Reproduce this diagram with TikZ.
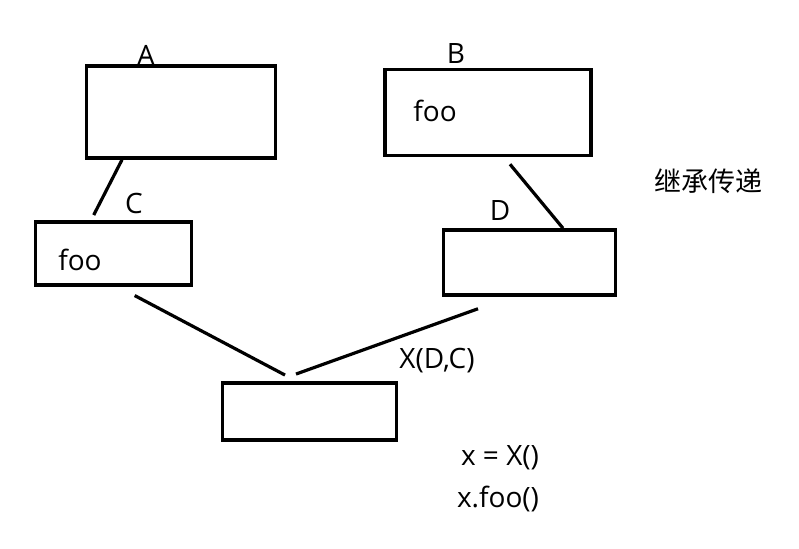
\documentclass[tikz,border=0pt]{standalone}
\usepackage{fontspec}
\setmainfont{Open Sans}
\newfontfamily\cjk{Noto Sans CJK SC}
\usetikzlibrary{positioning}

\begin{document}
\begin{tikzpicture}[
  x=1pt, y=-1pt,
  cls/.style={draw, line width=3.5pt, inner sep=0pt},
  lbl/.style={inner sep=0pt, font=\fontsize{28}{32}\selectfont},
  link/.style={line width=3.2pt}
]
  \useasboundingbox (0,0) rectangle (799,548);

  % classes
  \node[cls, minimum width=189pt, minimum height=92pt] (A) at (181,112) {};
  \node[cls, minimum width=206pt, minimum height=86pt] (B) at (488,112.5) {};
  \node[cls, minimum width=156pt, minimum height=63pt] (C) at (113.7,253.3) {};
  \node[cls, minimum width=172pt, minimum height=65pt] (D) at (529.5,262.5) {};
  \node[cls, minimum width=174pt, minimum height=57pt] (X) at (309.5,411.3) {};

  % names
  \node[lbl] (Aname) at (146,55) {A};
  \node[lbl] (Bname) at (456,54) {B};
  \node[lbl] (Cname) at (134,203) {C};
  \node[lbl] (Dname) at (500,211) {D};
  \node[lbl] (Xname) at (437,361) {X(D,C)};

  \node[lbl] (Bfoo) at (435,111) {foo};
  \node[lbl] (Cfoo) at (80,260) {foo};

  \node[lbl, font=\cjk\fontsize{27}{30}\selectfont] (note) at (708,181) {继承传递};
  \node[lbl] (call1) at (500,458) {x = X()};
  \node[lbl] (call2) at (498,499) {x.foo()};

  % inheritance lines
  \draw[link] ([xshift=-59pt]A.south) -- ([xshift=-20pt,yshift=5pt]C.north);
  \draw[link] ([xshift=22pt,yshift=-7pt]B.south) -- ([xshift=33.5pt]D.north);
  \draw[link] ([xshift=21pt,yshift=-9pt]C.south) -- ([xshift=-24.5pt,yshift=6pt]X.north);
  \draw[link] ([xshift=-51.5pt,yshift=-12pt]D.south) -- ([xshift=-13.5pt,yshift=7pt]X.north);
\end{tikzpicture}
\end{document}
